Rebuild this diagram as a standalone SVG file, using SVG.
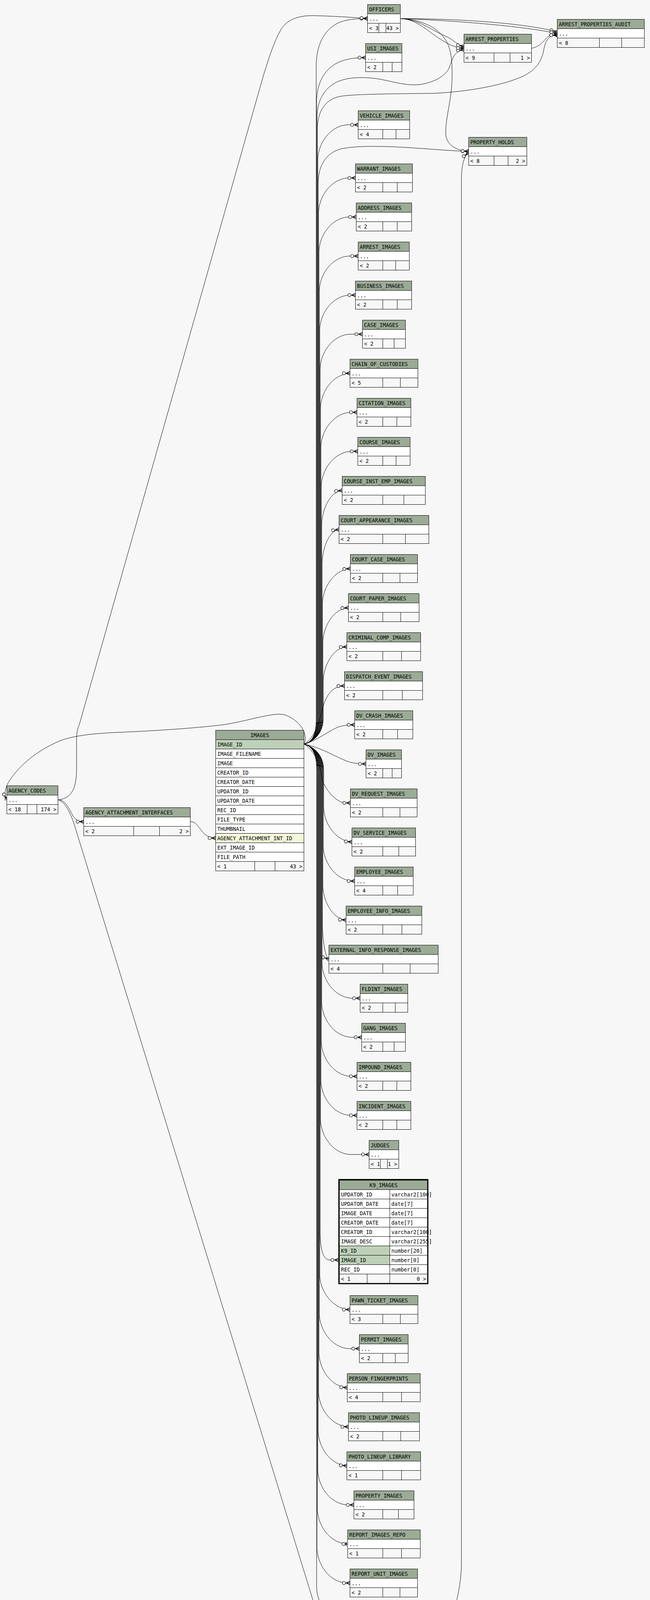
<svg xmlns="http://www.w3.org/2000/svg" width="1665" height="4317" viewBox="0 0 1665 4317">
<style>
.hd{fill:#9bab96;stroke:#000;stroke-width:1}
.rw{fill:#ffffff;stroke:#000;stroke-width:1}
.ft{fill:#f7f7f7;stroke:#000;stroke-width:1}
.pk{fill:#bed1b8;stroke:#000;stroke-width:1}
.fk{fill:#f4f7da;stroke:#000;stroke-width:1}
text{font-family:"DejaVu Sans Mono","Liberation Mono",monospace;font-size:13.3px;fill:#000}
.r{text-anchor:end}
.c{text-anchor:middle}
.e{fill:none;stroke:#000;stroke-width:1;marker-end:url(#crow)}
.t{fill:none;stroke:#000;stroke-width:1;marker-end:url(#tee)}
</style>
<defs>
<marker id="crow" markerUnits="userSpaceOnUse" markerWidth="30" markerHeight="20" viewBox="-25 -10 30 20" refX="0" refY="0" orient="auto" overflow="visible">
<path d="M0,-4.5 L-10,0 L0,4.5 M-10,0 L0,0" fill="none" stroke="#000" stroke-width="1.4"/>
<circle cx="-15.5" cy="0" r="4" fill="#f7f7f7" stroke="#000" stroke-width="1.2"/>
</marker>
<marker id="tee" markerUnits="userSpaceOnUse" markerWidth="30" markerHeight="20" viewBox="-25 -10 30 20" refX="0" refY="0" orient="auto" overflow="visible">
<rect x="-5" y="-4.5" width="2.5" height="9" fill="#000"/>
<circle cx="-10.5" cy="0" r="4" fill="#f7f7f7" stroke="#000" stroke-width="1.2"/>
</marker>
</defs>
<rect x="0" y="0" width="1665" height="4317" fill="#f7f7f7"/>
<g id="connectors">
<path class="e" d="M779,1905 C800,1900 810,1880 810,1840 L810,170 C810,115 830,80 860,62 C880,51 905,47.5 941.5,47.5"/>
<path class="e" d="M779,1905 C800,1900 811,1880 811,1840 L811,260 C811,215 830,180 860,163 C880,152 905,147.5 936.5,147.5"/>
<path class="e" d="M779,1905 C800,1900 812,1880 812,1840 L812,300 C812,260 830,222 870,207 C900,196 940,197 975,203 C1010,210 1040,219 1070,217 C1110,213 1140,195 1150,175 C1158,155 1162,130 1188.5,127"/>
<path class="e" d="M779,1905 C800,1900 813,1880 813,1840 L813,330 C813,290 830,255 870,247 C900,241 1000,240 1110,239 C1200,235 1290,218 1340,195 C1375,178 1388,155 1393,127 C1397,105 1405,90 1427.5,89"/>
<path class="e" d="M779,1905 C800,1900 814,1880 814,1840 L814,409.5 C814,369.5 844,322.5 889,319.5 L917.5,319.5"/>
<path class="e" d="M779,1905 C800,1900 815,1880 815,1840 L815,470 C815,430 830,395 870,382 C900,374 960,373 1032,377 C1100,381 1150,386 1200.5,387.5"/>
<path class="e" d="M779,1905 C800,1900 816,1880 816,1840 L816,545.5 C816,505.5 846,458.5 891,455.5 L910.5,455.5"/>
<path class="e" d="M779,1905 C800,1900 817,1880 817,1840 L817,645.5 C817,605.5 847,558.5 892,555.5 L912.5,555.5"/>
<path class="e" d="M779,1905 C800,1900 818,1880 818,1840 L818,745.5 C818,705.5 848,658.5 893,655.5 L917.5,655.5"/>
<path class="e" d="M779,1905 C800,1900 819,1880 819,1840 L819,845.5 C819,805.5 849,758.5 894,755.5 L910.5,755.5"/>
<path class="e" d="M779,1905 C800,1900 820,1880 820,1840 L820,945.5 C820,905.5 850,858.5 895,855.5 L928.5,855.5"/>
<path class="e" d="M779,1905 C800,1900 821,1880 821,1840 L821,1045.5 C821,1005.5 851,958.5 896,955.5 L896.5,955.5"/>
<path class="e" d="M779,1905 C800,1900 822,1880 822,1840 L822,1145.5 C822,1105.5 852,1058.5 897,1055.5 L914.5,1055.5"/>
<path class="e" d="M779,1905 C800,1900 823,1880 823,1840 L823,1245.5 C823,1205.5 853,1158.5 898,1155.5 L916.5,1155.5"/>
<path class="e" d="M779,1905 C800,1900 824,1880 824,1840 L824,1345.5 C824,1305.5 845,1258.5 876.5,1255.5"/>
<path class="e" d="M779,1905 C800,1900 825,1880 825,1840 L825,1445.5 C825,1405.5 842,1358.5 868.5,1355.5"/>
<path class="e" d="M779,1905 C800,1900 826,1880 826,1840 L826,1545.5 C826,1505.5 855,1458.5 897.5,1455.5"/>
<path class="e" d="M779,1905 C800,1900 827,1880 827,1840 L827,1645.5 C827,1605.5 853,1558.5 892.5,1555.5"/>
<path class="e" d="M779,1905 C800,1900 828,1880 828,1840 L828,1745.5 C828,1705.5 852,1658.5 888.5,1655.5"/>
<path class="e" d="M779,1905 C805,1890 818,1850 826,1815 C835,1780 850,1757 882.5,1755.5"/>
<path class="e" d="M779,1905 C815,1895 845,1868 870,1860 C885,1856 895,1855.5 908.5,1855.5"/>
<path class="e" d="M779,1905 C830,1915 870,1945 900,1952 C915,1955 925,1955.5 937.5,1955.5"/>
<path class="e" d="M779,1905 C805,1920 822,1960 826,2000 C835,2018 850,2045 880,2055.5 L897.5,2055.5"/>
<path class="e" d="M779,1905 C800,1910 829,1930 829,1970 L829,2065.5 C829,2105.5 858,2152.5 901.5,2155.5"/>
<path class="e" d="M779,1905 C800,1910 828,1930 828,1970 L828,2165.5 C828,2205.5 858,2252.5 903,2255.5 L908.5,2255.5"/>
<path class="e" d="M779,1905 C800,1910 827,1930 827,1970 L827,2265.5 C827,2305.5 851,2352.5 886.5,2355.5"/>
<path class="e" d="M779,1905 C800,1910 826,1930 826,1970 L826,2365.5 C826,2405.5 833,2452.5 842.5,2455.5"/>
<path class="e" d="M779,1905 C800,1910 825,1930 825,1970 L825,2465.5 C825,2505.5 855,2552.5 900,2555.5 L922.5,2555.5"/>
<path class="e" d="M779,1905 C800,1910 824,1930 824,1970 L824,2565.5 C824,2605.5 854,2652.5 899,2655.5 L926.5,2655.5"/>
<path class="e" d="M779,1905 C800,1910 823,1930 823,1970 L823,2665.5 C823,2705.5 853,2752.5 898,2755.5 L914.5,2755.5"/>
<path class="e" d="M779,1905 C800,1910 822,1930 822,1970 L822,2765.5 C822,2805.5 852,2852.5 897,2855.5 L914.5,2855.5"/>
<path class="e" d="M779,1905 C800,1910 821,1930 821,1970 L821,2865.5 C821,2905.5 851,2952.5 896,2955.5 L945.5,2955.5"/>
<path class="e" d="M779,1905 C800,1910 820,1930 820,1970 L820,3150 C820,3200 828,3225.5 845,3225.5 L867,3225.5"/>
<path class="e" d="M779,1905 C800,1910 819,1930 819,1970 L819,3262.5 C819,3302.5 849,3349.5 894,3352.5 L896.5,3352.5"/>
<path class="e" d="M779,1905 C800,1910 818,1930 818,1970 L818,3362.5 C818,3402.5 848,3449.5 893,3452.5 L920.5,3452.5"/>
<path class="e" d="M779,1905 C800,1910 817,1930 817,1970 L817,3462.5 C817,3502.5 846,3549.5 889.5,3552.5"/>
<path class="e" d="M779,1905 C800,1910 816,1930 816,1970 L816,3562.5 C816,3602.5 846,3649.5 891,3652.5 L892.5,3652.5"/>
<path class="e" d="M779,1905 C800,1910 815,1930 815,1970 L815,3662.5 C815,3702.5 844,3749.5 888.5,3752.5"/>
<path class="e" d="M779,1905 C800,1910 814,1930 814,1970 L814,3762.5 C814,3802.5 844,3849.5 889,3852.5 L906.5,3852.5"/>
<path class="t" d="M779,1905 C800,1910 813,1930 813,1970 L813,3862.5 C813,3902.5 843,3949.5 888,3952.5 L890.5,3952.5"/>
<path class="e" d="M779,1905 C800,1910 812,1930 812,1970 L812,3962.5 C812,4002.5 842,4049.5 887,4052.5 L896.5,4052.5"/>
<path class="e" d="M779,1905 C800,1910 811,1930 811,1970 L811,4062.5 C811,4102.5 841,4149.5 885.5,4152.5"/>
<path class="e" d="M779,1905 C790,1880 770,1845 730,1830 C700,1822 640,1845 574,1855 C520,1862 420,1870 300,1875 C230,1878 180,1885 150,1898 C100,1920 60,1950 30,1990 C15,2010 8,2030 17.5,2047.5"/>
<path class="e" d="M148.5,2047.5 C175,2045 195,2030 196,1975 L196,1895 C196,1875 199,1865 204,1852 L674,196 C685,160 700,110 720,75 C735,52 760,40 800,40 C850,41 900,44 941.5,47.5"/>
<path class="e" d="M148.5,2047.5 C165,2047 175,2065 185,2085 C190,2096 200,2103.5 214.5,2103.5"/>
<path class="e" d="M148.5,2047.5 C165,2050 180,2080 190,2110 L835,4205 C850,4255 930,4272 990,4266 C1060,4260 1120,4230 1140,4185 C1165,4130 1182,4060 1182,4000 L1182,460 C1182,425 1188,400 1200.5,391"/>
<path class="e" d="M487.5,2103.5 C500,2103 505,2112 515,2125 C525,2138 535,2145.5 552.5,2145.5"/>
<path class="e" d="M1025.5,47.5 C1200,48 1360,62 1427.5,82"/>
<path class="e" d="M1025.5,47.5 C1150,52 1340,66 1427.5,86"/>
<path class="e" d="M1025.5,47.5 C1075,50 1100,75 1140,92 C1160,100 1170,115 1188.5,119"/>
<path class="e" d="M1025.5,47.5 C1065,49 1090,75 1120,95 C1145,112 1165,123 1188.5,123"/>
<path class="e" d="M1025.5,47.5 C1080,50 1120,70 1140,100 C1158,125 1160,170 1157,220 C1153,270 1140,310 1142,345 C1145,375 1175,386 1200.5,387.5"/>
<path class="e" d="M1361.5,123.5 C1385,120 1395,100 1405,93 C1412,89 1420,90 1427.5,90"/>
</g>
<g id="OFFICERS">
<rect class="hd" x="941.5" y="11.5" width="84" height="24"/><rect class="rw" x="941.5" y="35.5" width="84" height="24"/>
<rect class="ft" x="941.5" y="59.5" width="29" height="24"/><rect class="ft" x="970.5" y="59.5" width="18" height="24"/><rect class="ft" x="988.5" y="59.5" width="37" height="24"/>
<text x="945.5" y="28.5">OFFICERS</text><text x="945.5" y="52.5">...</text><text x="945.5" y="76.5">&lt; 3</text><text class="r" x="1021.5" y="76.5">43 &gt;</text>
</g>
<g id="USI_IMAGES">
<rect class="hd" x="936.5" y="111.5" width="93" height="24"/><rect class="rw" x="936.5" y="135.5" width="93" height="24"/>
<rect class="ft" x="936.5" y="159.5" width="44" height="24"/><rect class="ft" x="980.5" y="159.5" width="24" height="24"/><rect class="ft" x="1004.5" y="159.5" width="25" height="24"/>
<text x="940.5" y="128.5">USI_IMAGES</text><text x="940.5" y="152.5">...</text><text x="940.5" y="176.5">&lt; 2</text>
</g>
<g id="ARREST_PROPERTIES">
<rect class="hd" x="1188.5" y="87.5" width="173" height="24"/><rect class="rw" x="1188.5" y="111.5" width="173" height="24"/>
<rect class="ft" x="1188.5" y="135.5" width="77" height="24"/><rect class="ft" x="1265.5" y="135.5" width="41" height="24"/><rect class="ft" x="1306.5" y="135.5" width="55" height="24"/>
<text x="1192.5" y="104.5">ARREST_PROPERTIES</text><text x="1192.5" y="128.5">...</text><text x="1192.5" y="152.5">&lt; 9</text><text class="r" x="1357.5" y="152.5">1 &gt;</text>
</g>
<g id="ARREST_PROPERTIES_AUDIT">
<rect class="hd" x="1427.5" y="49.5" width="223" height="24"/><rect class="rw" x="1427.5" y="73.5" width="223" height="24"/>
<rect class="ft" x="1427.5" y="97.5" width="108" height="24"/><rect class="ft" x="1535.5" y="97.5" width="57" height="24"/><rect class="ft" x="1592.5" y="97.5" width="58" height="24"/>
<text x="1431.5" y="66.5">ARREST_PROPERTIES_AUDIT</text><text x="1431.5" y="90.5">...</text><text x="1431.5" y="114.5">&lt; 8</text>
</g>
<g id="VEHICLE_IMAGES">
<rect class="hd" x="917.5" y="283.5" width="132" height="24"/><rect class="rw" x="917.5" y="307.5" width="132" height="24"/>
<rect class="ft" x="917.5" y="331.5" width="63" height="24"/><rect class="ft" x="980.5" y="331.5" width="34" height="24"/><rect class="ft" x="1014.5" y="331.5" width="35" height="24"/>
<text x="921.5" y="300.5">VEHICLE_IMAGES</text><text x="921.5" y="324.5">...</text><text x="921.5" y="348.5">&lt; 4</text>
</g>
<g id="PROPERTY_HOLDS">
<rect class="hd" x="1200.5" y="351.5" width="149" height="24"/><rect class="rw" x="1200.5" y="375.5" width="149" height="24"/>
<rect class="ft" x="1200.5" y="399.5" width="65" height="24"/><rect class="ft" x="1265.5" y="399.5" width="36" height="24"/><rect class="ft" x="1301.5" y="399.5" width="48" height="24"/>
<text x="1204.5" y="368.5">PROPERTY_HOLDS</text><text x="1204.5" y="392.5">...</text><text x="1204.5" y="416.5">&lt; 8</text><text class="r" x="1345.5" y="416.5">2 &gt;</text>
</g>
<g id="WARRANT_IMAGES">
<rect class="hd" x="910.5" y="419.5" width="146" height="24"/><rect class="rw" x="910.5" y="443.5" width="146" height="24"/>
<rect class="ft" x="910.5" y="467.5" width="70" height="24"/><rect class="ft" x="980.5" y="467.5" width="37" height="24"/><rect class="ft" x="1017.5" y="467.5" width="39" height="24"/>
<text x="914.5" y="436.5">WARRANT_IMAGES</text><text x="914.5" y="460.5">...</text><text x="914.5" y="484.5">&lt; 2</text>
</g>
<g id="ADDRESS_IMAGES">
<rect class="hd" x="912.5" y="519.5" width="142" height="24"/><rect class="rw" x="912.5" y="543.5" width="142" height="24"/>
<rect class="ft" x="912.5" y="567.5" width="68" height="24"/><rect class="ft" x="980.5" y="567.5" width="37" height="24"/><rect class="ft" x="1017.5" y="567.5" width="37" height="24"/>
<text x="916.5" y="536.5">ADDRESS_IMAGES</text><text x="916.5" y="560.5">...</text><text x="916.5" y="584.5">&lt; 2</text>
</g>
<g id="ARREST_IMAGES">
<rect class="hd" x="917.5" y="619.5" width="131" height="24"/><rect class="rw" x="917.5" y="643.5" width="131" height="24"/>
<rect class="ft" x="917.5" y="667.5" width="63" height="24"/><rect class="ft" x="980.5" y="667.5" width="33" height="24"/><rect class="ft" x="1013.5" y="667.5" width="35" height="24"/>
<text x="921.5" y="636.5">ARREST_IMAGES</text><text x="921.5" y="660.5">...</text><text x="921.5" y="684.5">&lt; 2</text>
</g>
<g id="BUSINESS_IMAGES">
<rect class="hd" x="910.5" y="719.5" width="144" height="24"/><rect class="rw" x="910.5" y="743.5" width="144" height="24"/>
<rect class="ft" x="910.5" y="767.5" width="70" height="24"/><rect class="ft" x="980.5" y="767.5" width="37" height="24"/><rect class="ft" x="1017.5" y="767.5" width="37" height="24"/>
<text x="914.5" y="736.5">BUSINESS_IMAGES</text><text x="914.5" y="760.5">...</text><text x="914.5" y="784.5">&lt; 2</text>
</g>
<g id="CASE_IMAGES">
<rect class="hd" x="928.5" y="819.5" width="110" height="24"/><rect class="rw" x="928.5" y="843.5" width="110" height="24"/>
<rect class="ft" x="928.5" y="867.5" width="52" height="24"/><rect class="ft" x="980.5" y="867.5" width="29" height="24"/><rect class="ft" x="1009.5" y="867.5" width="29" height="24"/>
<text x="932.5" y="836.5">CASE_IMAGES</text><text x="932.5" y="860.5">...</text><text x="932.5" y="884.5">&lt; 2</text>
</g>
<g id="CHAIN_OF_CUSTODIES">
<rect class="hd" x="896.5" y="919.5" width="174" height="24"/><rect class="rw" x="896.5" y="943.5" width="174" height="24"/>
<rect class="ft" x="896.5" y="967.5" width="84" height="24"/><rect class="ft" x="980.5" y="967.5" width="45" height="24"/><rect class="ft" x="1025.5" y="967.5" width="45" height="24"/>
<text x="900.5" y="936.5">CHAIN_OF_CUSTODIES</text><text x="900.5" y="960.5">...</text><text x="900.5" y="984.5">&lt; 5</text>
</g>
<g id="CITATION_IMAGES">
<rect class="hd" x="914.5" y="1019.5" width="138" height="24"/><rect class="rw" x="914.5" y="1043.5" width="138" height="24"/>
<rect class="ft" x="914.5" y="1067.5" width="66" height="24"/><rect class="ft" x="980.5" y="1067.5" width="36" height="24"/><rect class="ft" x="1016.5" y="1067.5" width="36" height="24"/>
<text x="918.5" y="1036.5">CITATION_IMAGES</text><text x="918.5" y="1060.5">...</text><text x="918.5" y="1084.5">&lt; 2</text>
</g>
<g id="COURSE_IMAGES">
<rect class="hd" x="916.5" y="1119.5" width="134" height="24"/><rect class="rw" x="916.5" y="1143.5" width="134" height="24"/>
<rect class="ft" x="916.5" y="1167.5" width="64" height="24"/><rect class="ft" x="980.5" y="1167.5" width="34" height="24"/><rect class="ft" x="1014.5" y="1167.5" width="36" height="24"/>
<text x="920.5" y="1136.5">COURSE_IMAGES</text><text x="920.5" y="1160.5">...</text><text x="920.5" y="1184.5">&lt; 2</text>
</g>
<g id="COURSE_INST_EMP_IMAGES">
<rect class="hd" x="876.5" y="1219.5" width="213" height="24"/><rect class="rw" x="876.5" y="1243.5" width="213" height="24"/>
<rect class="ft" x="876.5" y="1267.5" width="104" height="24"/><rect class="ft" x="980.5" y="1267.5" width="54" height="24"/><rect class="ft" x="1034.5" y="1267.5" width="55" height="24"/>
<text x="880.5" y="1236.5">COURSE_INST_EMP_IMAGES</text><text x="880.5" y="1260.5">...</text><text x="880.5" y="1284.5">&lt; 2</text>
</g>
<g id="COURT_APPEARANCE_IMAGES">
<rect class="hd" x="868.5" y="1319.5" width="230" height="24"/><rect class="rw" x="868.5" y="1343.5" width="230" height="24"/>
<rect class="ft" x="868.5" y="1367.5" width="112" height="24"/><rect class="ft" x="980.5" y="1367.5" width="58" height="24"/><rect class="ft" x="1038.5" y="1367.5" width="60" height="24"/>
<text x="872.5" y="1336.5">COURT_APPEARANCE_IMAGES</text><text x="872.5" y="1360.5">...</text><text x="872.5" y="1384.5">&lt; 2</text>
</g>
<g id="COURT_CASE_IMAGES">
<rect class="hd" x="897.5" y="1419.5" width="172" height="24"/><rect class="rw" x="897.5" y="1443.5" width="172" height="24"/>
<rect class="ft" x="897.5" y="1467.5" width="83" height="24"/><rect class="ft" x="980.5" y="1467.5" width="44" height="24"/><rect class="ft" x="1024.5" y="1467.5" width="45" height="24"/>
<text x="901.5" y="1436.5">COURT_CASE_IMAGES</text><text x="901.5" y="1460.5">...</text><text x="901.5" y="1484.5">&lt; 2</text>
</g>
<g id="COURT_PAPER_IMAGES">
<rect class="hd" x="892.5" y="1519.5" width="181" height="24"/><rect class="rw" x="892.5" y="1543.5" width="181" height="24"/>
<rect class="ft" x="892.5" y="1567.5" width="88" height="24"/><rect class="ft" x="980.5" y="1567.5" width="46" height="24"/><rect class="ft" x="1026.5" y="1567.5" width="47" height="24"/>
<text x="896.5" y="1536.5">COURT_PAPER_IMAGES</text><text x="896.5" y="1560.5">...</text><text x="896.5" y="1584.5">&lt; 2</text>
</g>
<g id="CRIMINAL_COMP_IMAGES">
<rect class="hd" x="888.5" y="1619.5" width="189" height="24"/><rect class="rw" x="888.5" y="1643.5" width="189" height="24"/>
<rect class="ft" x="888.5" y="1667.5" width="92" height="24"/><rect class="ft" x="980.5" y="1667.5" width="48" height="24"/><rect class="ft" x="1028.5" y="1667.5" width="49" height="24"/>
<text x="892.5" y="1636.5">CRIMINAL_COMP_IMAGES</text><text x="892.5" y="1660.5">...</text><text x="892.5" y="1684.5">&lt; 2</text>
</g>
<g id="DISPATCH_EVENT_IMAGES">
<rect class="hd" x="882.5" y="1719.5" width="200" height="24"/><rect class="rw" x="882.5" y="1743.5" width="200" height="24"/>
<rect class="ft" x="882.5" y="1767.5" width="98" height="24"/><rect class="ft" x="980.5" y="1767.5" width="50" height="24"/><rect class="ft" x="1030.5" y="1767.5" width="52" height="24"/>
<text x="886.5" y="1736.5">DISPATCH_EVENT_IMAGES</text><text x="886.5" y="1760.5">...</text><text x="886.5" y="1784.5">&lt; 2</text>
</g>
<g id="DV_CRASH_IMAGES">
<rect class="hd" x="908.5" y="1819.5" width="149" height="24"/><rect class="rw" x="908.5" y="1843.5" width="149" height="24"/>
<rect class="ft" x="908.5" y="1867.5" width="72" height="24"/><rect class="ft" x="980.5" y="1867.5" width="38" height="24"/><rect class="ft" x="1018.5" y="1867.5" width="39" height="24"/>
<text x="912.5" y="1836.5">DV_CRASH_IMAGES</text><text x="912.5" y="1860.5">...</text><text x="912.5" y="1884.5">&lt; 2</text>
</g>
<g id="DV_IMAGES">
<rect class="hd" x="937.5" y="1919.5" width="91" height="24"/><rect class="rw" x="937.5" y="1943.5" width="91" height="24"/>
<rect class="ft" x="937.5" y="1967.5" width="43" height="24"/><rect class="ft" x="980.5" y="1967.5" width="24" height="24"/><rect class="ft" x="1004.5" y="1967.5" width="24" height="24"/>
<text x="941.5" y="1936.5">DV_IMAGES</text><text x="941.5" y="1960.5">...</text><text x="941.5" y="1984.5">&lt; 2</text>
</g>
<g id="DV_REQUEST_IMAGES">
<rect class="hd" x="897.5" y="2019.5" width="171" height="24"/><rect class="rw" x="897.5" y="2043.5" width="171" height="24"/>
<rect class="ft" x="897.5" y="2067.5" width="83" height="24"/><rect class="ft" x="980.5" y="2067.5" width="44" height="24"/><rect class="ft" x="1024.5" y="2067.5" width="44" height="24"/>
<text x="901.5" y="2036.5">DV_REQUEST_IMAGES</text><text x="901.5" y="2060.5">...</text><text x="901.5" y="2084.5">&lt; 2</text>
</g>
<g id="DV_SERVICE_IMAGES">
<rect class="hd" x="901.5" y="2119.5" width="163" height="24"/><rect class="rw" x="901.5" y="2143.5" width="163" height="24"/>
<rect class="ft" x="901.5" y="2167.5" width="79" height="24"/><rect class="ft" x="980.5" y="2167.5" width="41" height="24"/><rect class="ft" x="1021.5" y="2167.5" width="43" height="24"/>
<text x="905.5" y="2136.5">DV_SERVICE_IMAGES</text><text x="905.5" y="2160.5">...</text><text x="905.5" y="2184.5">&lt; 2</text>
</g>
<g id="EMPLOYEE_IMAGES">
<rect class="hd" x="908.5" y="2219.5" width="150" height="24"/><rect class="rw" x="908.5" y="2243.5" width="150" height="24"/>
<rect class="ft" x="908.5" y="2267.5" width="72" height="24"/><rect class="ft" x="980.5" y="2267.5" width="38" height="24"/><rect class="ft" x="1018.5" y="2267.5" width="40" height="24"/>
<text x="912.5" y="2236.5">EMPLOYEE_IMAGES</text><text x="912.5" y="2260.5">...</text><text x="912.5" y="2284.5">&lt; 4</text>
</g>
<g id="EMPLOYEE_INFO_IMAGES">
<rect class="hd" x="886.5" y="2319.5" width="194" height="24"/><rect class="rw" x="886.5" y="2343.5" width="194" height="24"/>
<rect class="ft" x="886.5" y="2367.5" width="94" height="24"/><rect class="ft" x="980.5" y="2367.5" width="49" height="24"/><rect class="ft" x="1029.5" y="2367.5" width="51" height="24"/>
<text x="890.5" y="2336.5">EMPLOYEE_INFO_IMAGES</text><text x="890.5" y="2360.5">...</text><text x="890.5" y="2384.5">&lt; 2</text>
</g>
<g id="EXTERNAL_INFO_RESPONSE_IMAGES">
<rect class="hd" x="842.5" y="2419.5" width="280" height="24"/><rect class="rw" x="842.5" y="2443.5" width="280" height="24"/>
<rect class="ft" x="842.5" y="2467.5" width="138" height="24"/><rect class="ft" x="980.5" y="2467.5" width="70" height="24"/><rect class="ft" x="1050.5" y="2467.5" width="72" height="24"/>
<text x="846.5" y="2436.5">EXTERNAL_INFO_RESPONSE_IMAGES</text><text x="846.5" y="2460.5">...</text><text x="846.5" y="2484.5">&lt; 4</text>
</g>
<g id="FLDINT_IMAGES">
<rect class="hd" x="922.5" y="2519.5" width="122" height="24"/><rect class="rw" x="922.5" y="2543.5" width="122" height="24"/>
<rect class="ft" x="922.5" y="2567.5" width="58" height="24"/><rect class="ft" x="980.5" y="2567.5" width="32" height="24"/><rect class="ft" x="1012.5" y="2567.5" width="32" height="24"/>
<text x="926.5" y="2536.5">FLDINT_IMAGES</text><text x="926.5" y="2560.5">...</text><text x="926.5" y="2584.5">&lt; 2</text>
</g>
<g id="GANG_IMAGES">
<rect class="hd" x="926.5" y="2619.5" width="112" height="24"/><rect class="rw" x="926.5" y="2643.5" width="112" height="24"/>
<rect class="ft" x="926.5" y="2667.5" width="54" height="24"/><rect class="ft" x="980.5" y="2667.5" width="29" height="24"/><rect class="ft" x="1009.5" y="2667.5" width="29" height="24"/>
<text x="930.5" y="2636.5">GANG_IMAGES</text><text x="930.5" y="2660.5">...</text><text x="930.5" y="2684.5">&lt; 2</text>
</g>
<g id="IMPOUND_IMAGES">
<rect class="hd" x="914.5" y="2719.5" width="138" height="24"/><rect class="rw" x="914.5" y="2743.5" width="138" height="24"/>
<rect class="ft" x="914.5" y="2767.5" width="66" height="24"/><rect class="ft" x="980.5" y="2767.5" width="36" height="24"/><rect class="ft" x="1016.5" y="2767.5" width="36" height="24"/>
<text x="918.5" y="2736.5">IMPOUND_IMAGES</text><text x="918.5" y="2760.5">...</text><text x="918.5" y="2784.5">&lt; 2</text>
</g>
<g id="INCIDENT_IMAGES">
<rect class="hd" x="914.5" y="2819.5" width="138" height="24"/><rect class="rw" x="914.5" y="2843.5" width="138" height="24"/>
<rect class="ft" x="914.5" y="2867.5" width="66" height="24"/><rect class="ft" x="980.5" y="2867.5" width="36" height="24"/><rect class="ft" x="1016.5" y="2867.5" width="36" height="24"/>
<text x="918.5" y="2836.5">INCIDENT_IMAGES</text><text x="918.5" y="2860.5">...</text><text x="918.5" y="2884.5">&lt; 2</text>
</g>
<g id="JUDGES">
<rect class="hd" x="945.5" y="2919.5" width="76" height="24"/><rect class="rw" x="945.5" y="2943.5" width="76" height="24"/>
<rect class="ft" x="945.5" y="2967.5" width="29" height="24"/><rect class="ft" x="974.5" y="2967.5" width="18" height="24"/><rect class="ft" x="992.5" y="2967.5" width="29" height="24"/>
<text x="949.5" y="2936.5">JUDGES</text><text x="949.5" y="2960.5">...</text><text x="949.5" y="2984.5">&lt; 1</text><text class="r" x="1017.5" y="2984.5">1 &gt;</text>
</g>
<g id="K9_IMAGES">
<rect class="hd" x="869.5" y="3021.5" width="226" height="24"/>
<rect class="rw" x="869.5" y="3045.5" width="129" height="24"/><rect class="rw" x="998.5" y="3045.5" width="97" height="24"/>
<rect class="rw" x="869.5" y="3069.5" width="129" height="24"/><rect class="rw" x="998.5" y="3069.5" width="97" height="24"/>
<rect class="rw" x="869.5" y="3093.5" width="129" height="24"/><rect class="rw" x="998.5" y="3093.5" width="97" height="24"/>
<rect class="rw" x="869.5" y="3117.5" width="129" height="24"/><rect class="rw" x="998.5" y="3117.5" width="97" height="24"/>
<rect class="rw" x="869.5" y="3141.5" width="129" height="24"/><rect class="rw" x="998.5" y="3141.5" width="97" height="24"/>
<rect class="rw" x="869.5" y="3165.5" width="129" height="24"/><rect class="rw" x="998.5" y="3165.5" width="97" height="24"/>
<rect class="pk" x="869.5" y="3189.5" width="129" height="24"/><rect class="rw" x="998.5" y="3189.5" width="97" height="24"/>
<rect class="pk" x="869.5" y="3213.5" width="129" height="24"/><rect class="rw" x="998.5" y="3213.5" width="97" height="24"/>
<rect class="rw" x="869.5" y="3237.5" width="129" height="24"/><rect class="rw" x="998.5" y="3237.5" width="97" height="24"/>
<rect class="ft" x="869.5" y="3261.5" width="71" height="24"/><rect class="ft" x="940.5" y="3261.5" width="58" height="24"/><rect class="ft" x="998.5" y="3261.5" width="97" height="24"/>
<text class="c" x="982.5" y="3038.5">K9_IMAGES</text>
<text x="873.5" y="3062.5">UPDATOR_ID</text><text x="1002.5" y="3062.5">varchar2[100]</text>
<text x="873.5" y="3086.5">UPDATOR_DATE</text><text x="1002.5" y="3086.5">date[7]</text>
<text x="873.5" y="3110.5">IMAGE_DATE</text><text x="1002.5" y="3110.5">date[7]</text>
<text x="873.5" y="3134.5">CREATOR_DATE</text><text x="1002.5" y="3134.5">date[7]</text>
<text x="873.5" y="3158.5">CREATOR_ID</text><text x="1002.5" y="3158.5">varchar2[100]</text>
<text x="873.5" y="3182.5">IMAGE_DESC</text><text x="1002.5" y="3182.5">varchar2[255]</text>
<text x="873.5" y="3206.5">K9_ID</text><text x="1002.5" y="3206.5">number[20]</text>
<text x="873.5" y="3230.5">IMAGE_ID</text><text x="1002.5" y="3230.5">number[0]</text>
<text x="873.5" y="3254.5">REC_ID</text><text x="1002.5" y="3254.5">number[0]</text>
<text x="873.5" y="3278.5">&lt; 1</text><text class="r" x="1091.5" y="3278.5">0 &gt;</text>
<rect x="868.2" y="3019.8" width="227.6" height="266.2" fill="none" stroke="#000" stroke-width="3"/>
</g>
<g id="PAWN_TICKET_IMAGES">
<rect class="hd" x="896.5" y="3316.5" width="174" height="24"/><rect class="rw" x="896.5" y="3340.5" width="174" height="24"/>
<rect class="ft" x="896.5" y="3364.5" width="84" height="24"/><rect class="ft" x="980.5" y="3364.5" width="45" height="24"/><rect class="ft" x="1025.5" y="3364.5" width="45" height="24"/>
<text x="900.5" y="3333.5">PAWN_TICKET_IMAGES</text><text x="900.5" y="3357.5">...</text><text x="900.5" y="3381.5">&lt; 3</text>
</g>
<g id="PERMIT_IMAGES">
<rect class="hd" x="920.5" y="3416.5" width="125" height="24"/><rect class="rw" x="920.5" y="3440.5" width="125" height="24"/>
<rect class="ft" x="920.5" y="3464.5" width="60" height="24"/><rect class="ft" x="980.5" y="3464.5" width="32" height="24"/><rect class="ft" x="1012.5" y="3464.5" width="33" height="24"/>
<text x="924.5" y="3433.5">PERMIT_IMAGES</text><text x="924.5" y="3457.5">...</text><text x="924.5" y="3481.5">&lt; 2</text>
</g>
<g id="PERSON_FINGERPRINTS">
<rect class="hd" x="889.5" y="3516.5" width="187" height="24"/><rect class="rw" x="889.5" y="3540.5" width="187" height="24"/>
<rect class="ft" x="889.5" y="3564.5" width="91" height="24"/><rect class="ft" x="980.5" y="3564.5" width="48" height="24"/><rect class="ft" x="1028.5" y="3564.5" width="48" height="24"/>
<text x="893.5" y="3533.5">PERSON_FINGERPRINTS</text><text x="893.5" y="3557.5">...</text><text x="893.5" y="3581.5">&lt; 4</text>
</g>
<g id="PHOTO_LINEUP_IMAGES">
<rect class="hd" x="892.5" y="3616.5" width="182" height="24"/><rect class="rw" x="892.5" y="3640.5" width="182" height="24"/>
<rect class="ft" x="892.5" y="3664.5" width="88" height="24"/><rect class="ft" x="980.5" y="3664.5" width="46" height="24"/><rect class="ft" x="1026.5" y="3664.5" width="48" height="24"/>
<text x="896.5" y="3633.5">PHOTO_LINEUP_IMAGES</text><text x="896.5" y="3657.5">...</text><text x="896.5" y="3681.5">&lt; 2</text>
</g>
<g id="PHOTO_LINEUP_LIBRARY">
<rect class="hd" x="888.5" y="3716.5" width="189" height="24"/><rect class="rw" x="888.5" y="3740.5" width="189" height="24"/>
<rect class="ft" x="888.5" y="3764.5" width="92" height="24"/><rect class="ft" x="980.5" y="3764.5" width="48" height="24"/><rect class="ft" x="1028.5" y="3764.5" width="49" height="24"/>
<text x="892.5" y="3733.5">PHOTO_LINEUP_LIBRARY</text><text x="892.5" y="3757.5">...</text><text x="892.5" y="3781.5">&lt; 1</text>
</g>
<g id="PROPERTY_IMAGES">
<rect class="hd" x="906.5" y="3816.5" width="154" height="24"/><rect class="rw" x="906.5" y="3840.5" width="154" height="24"/>
<rect class="ft" x="906.5" y="3864.5" width="74" height="24"/><rect class="ft" x="980.5" y="3864.5" width="40" height="24"/><rect class="ft" x="1020.5" y="3864.5" width="40" height="24"/>
<text x="910.5" y="3833.5">PROPERTY_IMAGES</text><text x="910.5" y="3857.5">...</text><text x="910.5" y="3881.5">&lt; 2</text>
</g>
<g id="REPORT_IMAGES_REPO">
<rect class="hd" x="890.5" y="3916.5" width="186" height="24"/><rect class="rw" x="890.5" y="3940.5" width="186" height="24"/>
<rect class="ft" x="890.5" y="3964.5" width="90" height="24"/><rect class="ft" x="980.5" y="3964.5" width="48" height="24"/><rect class="ft" x="1028.5" y="3964.5" width="48" height="24"/>
<text x="894.5" y="3933.5">REPORT_IMAGES_REPO</text><text x="894.5" y="3957.5">...</text><text x="894.5" y="3981.5">&lt; 1</text>
</g>
<g id="REPORT_UNIT_IMAGES">
<rect class="hd" x="896.5" y="4016.5" width="173" height="24"/><rect class="rw" x="896.5" y="4040.5" width="173" height="24"/>
<rect class="ft" x="896.5" y="4064.5" width="84" height="24"/><rect class="ft" x="980.5" y="4064.5" width="44" height="24"/><rect class="ft" x="1024.5" y="4064.5" width="45" height="24"/>
<text x="900.5" y="4033.5">REPORT_UNIT_IMAGES</text><text x="900.5" y="4057.5">...</text><text x="900.5" y="4081.5">&lt; 2</text>
</g>
<g id="USER_FIELD_SIG_VALUES">
<rect class="hd" x="885.5" y="4116.5" width="195" height="24"/><rect class="rw" x="885.5" y="4140.5" width="195" height="24"/>
<rect class="ft" x="885.5" y="4164.5" width="95" height="24"/><rect class="ft" x="980.5" y="4164.5" width="49" height="24"/><rect class="ft" x="1029.5" y="4164.5" width="51" height="24"/>
<text x="889.5" y="4133.5">USER_FIELD_SIG_VALUES</text><text x="889.5" y="4157.5">...</text><text x="889.5" y="4181.5">&lt; 2</text>
</g>
<g id="AGENCY_CODES">
<rect class="hd" x="17.5" y="2011.5" width="131" height="24"/><rect class="rw" x="17.5" y="2035.5" width="131" height="24"/>
<rect class="ft" x="17.5" y="2059.5" width="52" height="24"/><rect class="ft" x="69.5" y="2059.5" width="25" height="24"/><rect class="ft" x="94.5" y="2059.5" width="54" height="24"/>
<text x="21.5" y="2028.5">AGENCY_CODES</text><text x="21.5" y="2052.5">...</text><text x="21.5" y="2076.5">&lt; 18</text><text class="r" x="144.5" y="2076.5">174 &gt;</text>
</g>
<g id="AGENCY_ATTACHMENT_INTERFACES">
<rect class="hd" x="214.5" y="2067.5" width="273" height="24"/><rect class="rw" x="214.5" y="2091.5" width="273" height="24"/>
<rect class="ft" x="214.5" y="2115.5" width="128" height="24"/><rect class="ft" x="342.5" y="2115.5" width="66" height="24"/><rect class="ft" x="408.5" y="2115.5" width="79" height="24"/>
<text x="218.5" y="2084.5">AGENCY_ATTACHMENT_INTERFACES</text><text x="218.5" y="2108.5">...</text><text x="218.5" y="2132.5">&lt; 2</text><text class="r" x="483.5" y="2132.5">2 &gt;</text>
</g>
<g id="IMAGES">
<rect class="hd" x="552.5" y="1869.5" width="226" height="24"/>
<rect class="pk" x="552.5" y="1893.5" width="226" height="24"/>
<rect class="rw" x="552.5" y="1917.5" width="226" height="24"/>
<rect class="rw" x="552.5" y="1941.5" width="226" height="24"/>
<rect class="rw" x="552.5" y="1965.5" width="226" height="24"/>
<rect class="rw" x="552.5" y="1989.5" width="226" height="24"/>
<rect class="rw" x="552.5" y="2013.5" width="226" height="24"/>
<rect class="rw" x="552.5" y="2037.5" width="226" height="24"/>
<rect class="rw" x="552.5" y="2061.5" width="226" height="24"/>
<rect class="rw" x="552.5" y="2085.5" width="226" height="24"/>
<rect class="rw" x="552.5" y="2109.5" width="226" height="24"/>
<rect class="fk" x="552.5" y="2133.5" width="226" height="24"/>
<rect class="rw" x="552.5" y="2157.5" width="226" height="24"/>
<rect class="rw" x="552.5" y="2181.5" width="226" height="24"/>
<rect class="ft" x="552.5" y="2205.5" width="100" height="24"/><rect class="ft" x="652.5" y="2205.5" width="52" height="24"/><rect class="ft" x="704.5" y="2205.5" width="74" height="24"/>
<text class="c" x="665.5" y="1886.5">IMAGES</text>
<text x="556.5" y="1910.5">IMAGE_ID</text>
<text x="556.5" y="1934.5">IMAGE_FILENAME</text>
<text x="556.5" y="1958.5">IMAGE</text>
<text x="556.5" y="1982.5">CREATOR_ID</text>
<text x="556.5" y="2006.5">CREATOR_DATE</text>
<text x="556.5" y="2030.5">UPDATOR_ID</text>
<text x="556.5" y="2054.5">UPDATOR_DATE</text>
<text x="556.5" y="2078.5">REC_ID</text>
<text x="556.5" y="2102.5">FILE_TYPE</text>
<text x="556.5" y="2126.5">THUMBNAIL</text>
<text x="556.5" y="2150.5">AGENCY_ATTACHMENT_INT_ID</text>
<text x="556.5" y="2174.5">EXT_IMAGE_ID</text>
<text x="556.5" y="2198.5">FILE_PATH</text>
<text x="556.5" y="2222.5">&lt; 1</text><text class="r" x="774.5" y="2222.5">43 &gt;</text>
</g>
<text x="16" y="4303.5">Generated by SchemaSpy</text>
</svg>
